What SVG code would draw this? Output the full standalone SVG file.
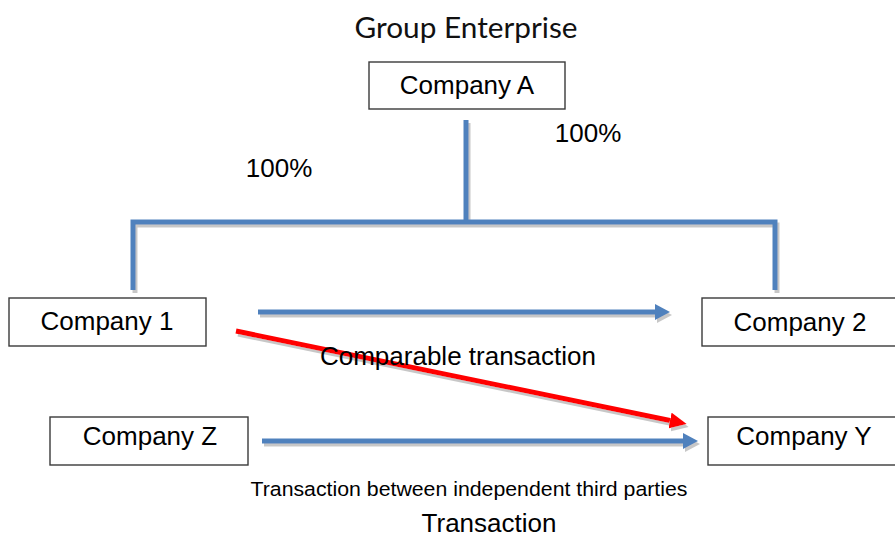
<svg xmlns="http://www.w3.org/2000/svg" width="895" height="537" viewBox="0 0 895 537">
  <style>
    .box { fill: #ffffff; stroke: #3a3a3a; stroke-width: 1.4; }
    .lbl { font-family: "Liberation Sans", Arial, sans-serif; font-size: 26px; fill: #000; }
    .title { font-family: Lato, "Open Sans", sans-serif; font-size: 28px; fill: #111; }
    .small { font-family: "Liberation Sans", Arial, sans-serif; font-size: 20.5px; fill: #000; }
    .blue { fill: none; stroke: #4F81BD; stroke-width: 5; }
    .red { fill: none; stroke: #FF0000; stroke-width: 5; }
  </style>
  <defs>
    <filter id="shadow" x="-5%" y="-20%" width="110%" height="160%">
      <feDropShadow dx="2" dy="3" stdDeviation="0.6" flood-color="#9a9a9a" flood-opacity="0.55"/>
    </filter>
    <marker id="headBlue" markerUnits="userSpaceOnUse" markerWidth="16" markerHeight="16" refX="0" refY="8" orient="auto">
      <path d="M0,0 L15,8 L0,16 Z" fill="#4F81BD"/>
    </marker>
    <marker id="headRed" markerUnits="userSpaceOnUse" markerWidth="18" markerHeight="16" refX="0" refY="8" orient="auto">
      <path d="M0,0 L17,8 L0,16 Z" fill="#FF0000"/>
    </marker>
  </defs>
  <rect width="895" height="537" fill="#ffffff"/>

  <text class="title" x="466" y="38" text-anchor="middle" textLength="223" lengthAdjust="spacingAndGlyphs">Group Enterprise</text>

  <g id="connectors" filter="url(#shadow)">
    <path class="blue" d="M466,120 V222"/>
    <path class="blue" d="M133,290 V222 H775 V290"/>
    <path class="blue" d="M258,312 H655" marker-end="url(#headBlue)"/>
    <path class="blue" d="M262,441 H683" marker-end="url(#headBlue)"/>
    <path class="red" d="M236,331 L670,420.5" marker-end="url(#headRed)"/>
  </g>

  <g id="companyA">
    <rect class="box" x="369" y="62" width="196" height="47"/>
    <text class="lbl" x="467" y="94" text-anchor="middle">Company A</text>
  </g>
  <g id="company1">
    <rect class="box" x="9" y="298" width="197" height="48"/>
    <text class="lbl" x="107" y="330" text-anchor="middle">Company 1</text>
  </g>
  <g id="company2">
    <rect class="box" x="702" y="298" width="200" height="48"/>
    <text class="lbl" x="800" y="331" text-anchor="middle">Company 2</text>
  </g>
  <g id="companyZ">
    <rect class="box" x="50" y="417" width="198" height="48"/>
    <text class="lbl" x="150" y="445" text-anchor="middle">Company Z</text>
  </g>
  <g id="companyY">
    <rect class="box" x="708" y="417" width="200" height="48"/>
    <text class="lbl" x="804" y="445" text-anchor="middle">Company Y</text>
  </g>

  <text class="lbl" x="279" y="177" text-anchor="middle">100%</text>
  <text class="lbl" x="588" y="142" text-anchor="middle">100%</text>
  <text class="lbl" x="458" y="365" text-anchor="middle">Comparable transaction</text>
  <text class="small" x="469" y="496" text-anchor="middle" textLength="437" lengthAdjust="spacingAndGlyphs">Transaction between independent third parties</text>
  <text class="lbl" x="489" y="532" text-anchor="middle">Transaction</text>
</svg>
